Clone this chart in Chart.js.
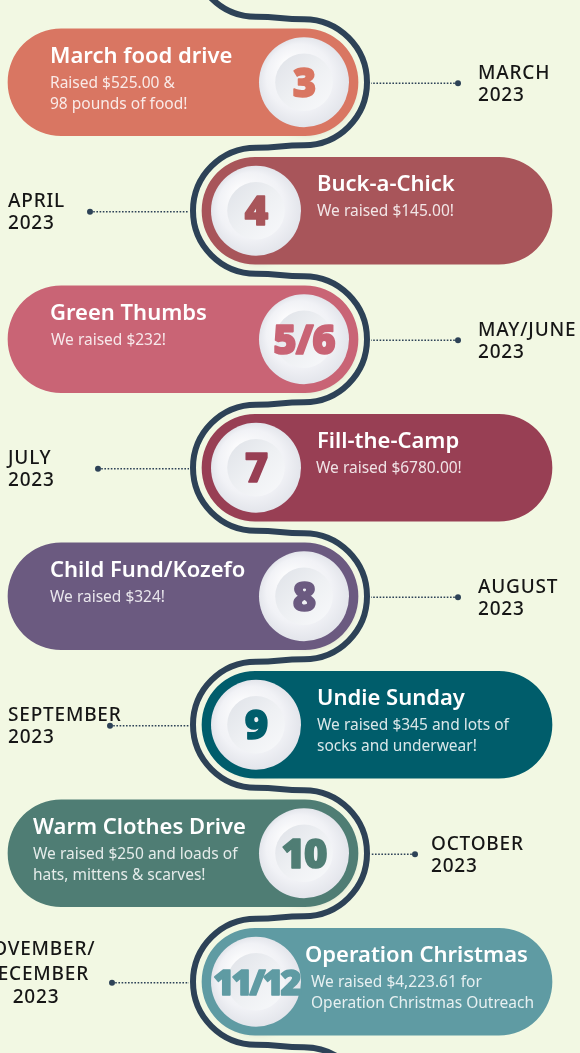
<!DOCTYPE html>
<html>
<head>
<meta charset="utf-8">
<script src="https://cdn.jsdelivr.net/npm/chart.js@4/dist/chart.umd.min.js"></script>
<style>
  html, body { margin: 0; padding: 0; background: #f2f8e3; }
  canvas { display: block; }
</style>
</head>
<body>
<canvas id="chart" width="580" height="1053"></canvas>
<script>
// Data
const numbers = ["3", "4", "5/6", "7", "8", "9", "10", "11/12"];
const titles = ["March food drive", "Buck-a-Chick", "Green Thumbs", "Fill-the-Camp",
  "Child Fund/Kozefo", "Undie Sunday", "Warm Clothes Drive", "Operation Christmas"];
const details = [
  ["Raised $525.00 &", "98 pounds of food!"],
  ["We raised $145.00!"],
  ["We raised $232!"],
  ["We raised $6780.00!"],
  ["We raised $324!"],
  ["We raised $345 and lots of", "socks and underwear!"],
  ["We raised $250 and loads of", "hats, mittens & scarves!"],
  ["We raised $4,223.61 for", "Operation Christmas Outreach"]
];
const months = [
  ["MARCH", "2023"], ["APRIL", "2023"], ["MAY/JUNE", "2023"], ["JULY", "2023"],
  ["AUGUST", "2023"], ["SEPTEMBER", "2023"], ["OCTOBER", "2023"], ["NOVEMBER/", "DECEMBER", "2023"]
];
const sides = ["left", "right", "left", "right", "left", "right", "left", "right"];

// Styles
const pillColors = ["#d97662", "#a8555a", "#c96475", "#983f54", "#6b5a80", "#005d6b", "#4f7d74", "#5f9ba3"];
const lineColor = "#2d4257";
const FONT = '"Noto Sans", sans-serif';

// Layout (x scale runs 0..580, same as the canvas)
const leftPill = [8, 358];
const rightPill = [202, 552];
const capR = 54;
const titleX = [50, 317, 50, 317, 50, 317, 33, 305];
const detailX = [50, 317, 51, 316, 50, 317, 33, 311];
const monthX = [478, 8, 478, 8, 478, 8, 431, 36];
const dotX = [458, 90, 458, 98, 458, 110, 415, 112];

const capX = side => side === "left" ? leftPill[1] - capR : rightPill[0] + capR;

//Snake line + dotted connectors, drawn behind the pills
const backPlugin = {
  id: "back",
  beforeDatasetsDraw(chart) {
    const ctx = chart.ctx;
    const x = chart.scales.x, y = chart.scales.y;
    const y0 = y.getPixelForValue(0);
    const band = y.getPixelForValue(1) - y0;
    const R = 63;
    const xr = x.getPixelForValue(capX("left"));
    const xl = x.getPixelForValue(capX("right"));

    ctx.save();
    ctx.strokeStyle = lineColor;
    ctx.lineWidth = 6;
    ctx.lineCap = "round";
    ctx.beginPath();
    let prev = null;
    for (let i = -1; i <= 8; i++) {
      const yc = y0 + i * band;
      const even = ((i % 2) + 2) % 2 === 0;
      const cx = even ? xr : xl;
      if (prev) {
        const mid = (prev[0] + cx) / 2;
        ctx.bezierCurveTo(mid, prev[1], mid, yc - R, cx, yc - R);
      } else {
        ctx.moveTo(cx, yc - R);
      }
      ctx.arc(cx, yc, R, -Math.PI / 2, Math.PI / 2, !even);
      prev = [cx, yc + R];
    }
    ctx.stroke();

    //dotted connectors
    ctx.lineWidth = 1.6;
    ctx.setLineDash([1.6, 1.6]);
    ctx.lineCap = "butt";
    months.forEach((m, i) => {
      const yc = y.getPixelForValue(i) + 1;
      const dx = x.getPixelForValue(dotX[i]);
      const lineEdge = sides[i] === "left" ? xr + R + 4 : xl - R - 4;
      ctx.beginPath();
      ctx.moveTo(dx, yc);
      ctx.lineTo(lineEdge, yc);
      ctx.stroke();
    });
    ctx.setLineDash([]);
    ctx.fillStyle = lineColor;
    months.forEach((m, i) => {
      const yc = y.getPixelForValue(i) + 1;
      ctx.beginPath();
      ctx.arc(x.getPixelForValue(dotX[i]), yc, 3, 0, Math.PI * 2);
      ctx.fill();
    });
    ctx.restore();
  },
  beforeDatasetDraw(chart, args) {
    if (args.index === 1) {
      const ctx = chart.ctx;
      ctx.save();
      ctx.shadowColor = "rgba(40,30,40,0.35)";
      ctx.shadowBlur = 9;
      ctx.shadowOffsetX = 3;
      ctx.shadowOffsetY = 4;
    }
  },
  afterDatasetDraw(chart, args) {
    if (args.index === 1) chart.ctx.restore();
  }
};

//Circle shading, numbers, titles and month labels
const textPlugin = {
  id: "texts",
  afterDatasetsDraw(chart) {
    const ctx = chart.ctx;
    const x = chart.scales.x, y = chart.scales.y;
    const points = chart.getDatasetMeta(1).data;
    ctx.save();

    points.forEach((pt, i) => {
      const r = pt.options.radius;
      //outer disc gloss
      let g = ctx.createRadialGradient(pt.x - r * 0.35, pt.y - r * 0.4, r * 0.1, pt.x, pt.y, r);
      g.addColorStop(0, "#fcfcfd");
      g.addColorStop(0.7, "#f1f2f6");
      g.addColorStop(1, "#e3e5eb");
      ctx.fillStyle = g;
      ctx.beginPath();
      ctx.arc(pt.x, pt.y, r, 0, Math.PI * 2);
      ctx.fill();
      //inner recessed disc
      const ri = r * 0.64;
      g = ctx.createLinearGradient(pt.x - ri, pt.y - ri, pt.x + ri, pt.y + ri);
      g.addColorStop(0, "#dfe2e8");
      g.addColorStop(0.5, "#eef0f3");
      g.addColorStop(1, "#f8f9fb");
      ctx.fillStyle = g;
      ctx.beginPath();
      ctx.arc(pt.x, pt.y, ri, 0, Math.PI * 2);
      ctx.fill();

      //number
      const long = numbers[i].length > 3;
      const size = long ? 36 : 40;
      ctx.font = `900 ${size}px ${FONT}`;
      ctx.letterSpacing = long ? "-3px" : "-1px";
      ctx.fillStyle = pillColors[i];
      ctx.strokeStyle = pillColors[i];
      ctx.lineWidth = 1.6;
      ctx.lineJoin = "round";
      ctx.textAlign = "center";
      ctx.textBaseline = "alphabetic";
      ctx.fillText(numbers[i], pt.x, pt.y + size * 0.36);
      ctx.strokeText(numbers[i], pt.x, pt.y + size * 0.36);
    });
    ctx.letterSpacing = "0px";

    titles.forEach((t, i) => {
      const yc = y.getPixelForValue(i);
      ctx.textAlign = "left";
      ctx.textBaseline = "middle";
      ctx.fillStyle = "#ffffff";
      ctx.font = `600 22px ${FONT}`;
      ctx.fillText(t, x.getPixelForValue(titleX[i]), yc - 26);
      ctx.font = `400 15.5px ${FONT}`;
      ctx.fillStyle = "rgba(255,255,255,0.85)";
      details[i].forEach((line, k) => {
        ctx.fillText(line, x.getPixelForValue(detailX[i]), yc + 1 + k * 21);
      });

      //month label
      const lines = months[i];
      const offs = lines.length === 3 ? [-32, -7, 16] : [-9, 13];
      ctx.font = `500 19px ${FONT}`;
      ctx.letterSpacing = "0.8px";
      ctx.fillStyle = "#161616";
      ctx.textAlign = lines.length === 3 ? "center" : "left";
      lines.forEach((line, k) => {
        ctx.fillText(line, x.getPixelForValue(monthX[i]), yc + offs[k]);
      });
      ctx.letterSpacing = "0px";
    });
    ctx.restore();
  }
};

new Chart(document.querySelector("#chart").getContext("2d"), {
  type: "bar",
  data: {
    labels: titles,
    datasets: [
      {
        type: "bar",
        indexAxis: "y",
        data: sides.map(s => s === "left" ? leftPill : rightPill),
        backgroundColor: pillColors,
        borderRadius: 60,
        borderSkipped: false,
        barThickness: 107
      },
      {
        type: "scatter",
        data: sides.map((s, i) => ({ x: capX(s), y: i })),
        backgroundColor: "#f0f1f5",
        borderWidth: 0,
        pointRadius: 45,
        pointHoverRadius: 45,
        clip: false
      }
    ]
  },
  options: {
    indexAxis: "y",
    responsive: false,
    devicePixelRatio: 1,
    animation: false,
    events: [],
    layout: { autoPadding: false, padding: { top: 18, bottom: 7, left: 0, right: 0 } },
    plugins: { legend: { display: false }, tooltip: { enabled: false } },
    scales: {
      x: { type: "linear", min: 0, max: 580, display: false },
      y: { type: "category", offset: true, display: false }
    }
  },
  plugins: [backPlugin, textPlugin]
});
</script>
</body>
</html>
